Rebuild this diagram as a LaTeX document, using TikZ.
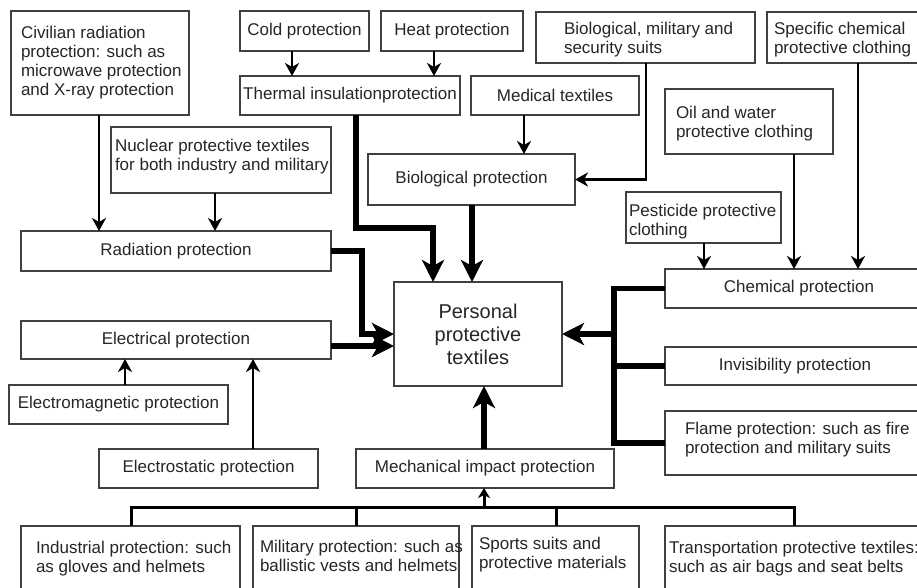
\documentclass[tikz,border=0pt]{standalone}
\usepackage{fontspec}
\setmainfont{Liberation Sans}
\usetikzlibrary{arrows.meta}
\newcommand\fs{\fontsize{17}{19}\selectfont}
\newcommand\bx[6]{\node[box, minimum width={#4-#2}, minimum height={#5-#3}] (#1) at (#2,#3) {#6};}
\tikzset{
 box/.style={draw=black!75, line width=1.2pt, rectangle, inner sep=0pt, outer sep=0pt, anchor=north west, font=\fs, text=black!85, align=center},
 txt/.style={inner sep=0pt, outer sep=0pt, anchor=north west, align=left, font=\fs, text=black!85},
 thinarrow/.style={line width=2.6pt, -{Stealth[length=13pt,width=14pt,inset=4pt]}},
 thickarrow/.style={line width=5.5pt, -{Stealth[length=22pt,width=22pt,inset=6pt]}},
 thickline/.style={line width=5.5pt},
 bus/.style={line width=3pt},
 busarrow/.style={line width=3pt, -{Stealth[length=10pt,width=12pt,inset=3pt]}}
}
\begin{document}
\begin{tikzpicture}[x=1pt,y=-1pt]
\useasboundingbox (0,0) rectangle (917,587);
\clip (0,0) rectangle (917,587);
\fill[white] (0,0) rectangle (917,587);
% boxes
\bx{civ}{11}{11}{189}{115}{}
\bx{cold}{240}{11}{369}{51}{Cold protection}
\bx{heat}{381}{11}{523}{51}{Heat protection}
\bx{therm}{240}{76}{460}{115}{Thermal insulationprotection}
\bx{biomil}{536}{12}{755}{63}{}
\bx{spec}{767}{12}{940}{63}{}
\bx{med}{471}{76}{639}{115}{Medical textiles}
\bx{nuc}{111}{127}{331}{193}{}
\bx{oil}{665}{89}{833}{154}{}
\bx{bio}{368}{154}{575}{205}{Biological protection}
\bx{pest}{626}{192}{781}{243}{}
\bx{rad}{21}{231}{331}{271}{Radiation protection}
\bx{chem}{665}{269}{933}{308}{Chemical protection}
\node[box, minimum width=168, minimum height=104, font=\fontsize{20}{23}\selectfont] (pers) at (394,282) {Personal\\protective\\textiles};
\bx{elec}{21}{321}{331}{359}{Electrical protection}
\bx{invis}{665}{347}{925}{385}{Invisibility protection}
\bx{emag}{9}{385}{228}{424}{Electromagnetic protection}
\bx{flame}{665}{411}{935}{475}{}
\bx{estat}{99}{449}{318}{488}{Electrostatic protection}
\bx{mech}{356}{449}{614}{488}{Mechanical impact protection}
\bx{ind}{21}{526}{240}{610}{}
\bx{mil}{253}{526}{459}{610}{}
\bx{sports}{472}{526}{639}{610}{}
\bx{trans}{665}{526}{923}{610}{}
% left-aligned texts
\node[txt] (civ-t) at (21,26) {Civilian radiation\\protection: such as\\microwave protection\\and X-ray protection};
\node[txt] (biomil-t) at (564,22) {Biological, military and\\security suits};
\node[txt] (spec-t) at (774,22) {Specific chemical\\protective clothing};
\node[txt] (nuc-t) at (115,139) {Nuclear protective textiles\\for both industry and military};
\node[txt] (oil-t) at (676,106) {Oil and water\\protective clothing};
\node[txt] (pest-t) at (629,204) {Pesticide protective\\clothing};
\node[txt] (flame-t) at (685,422) {Flame protection: such as fire\\protection and military suits};
\node[txt] (ind-t) at (36,541) {Industrial protection: such\\as gloves and helmets};
\node[txt] (mil-t) at (260,540) {Military protection: such as\\ballistic vests and helmets};
\node[txt] (sports-t) at (479,537) {Sports suits and\\protective materials};
\node[txt] (trans-t) at (669,541) {Transportation protective textiles:\\such as air bags and seat belts};
% connectors
\draw[thinarrow] (civ.south -| 99,0) -- (rad.north -| 99,0);
\draw[thinarrow] (nuc.south -| 215,0) -- (rad.north -| 215,0);
\draw[thinarrow] (cold.south -| 292,0) -- (therm.north -| 292,0);
\draw[thinarrow] (heat.south -| 434,0) -- (therm.north -| 434,0);
\draw[thinarrow] (med.south -| 524,0) -- (bio.north -| 524,0);
\draw[thinarrow] (biomil.south -| 646,0) |- (bio.east);
\draw[thickarrow] (therm.south -| 356,0) -- (356,228) -| (pers.north -| 433,0);
\draw[thickarrow] (bio.south -| 472,0) -- (pers.north -| 472,0);
\draw[thickarrow] (rad.east) -| (362,334) -- (pers.west |- 0,334);
\draw[thickarrow] (elec.east |- 0,346) -- (pers.west |- 0,346);
\draw[thinarrow] (emag.north -| 125,0) -- (elec.south -| 125,0);
\draw[thinarrow] (estat.north -| 253,0) -- (elec.south -| 253,0);
\draw[thickarrow] (mech.north -| 484,0) -- (pers.south -| 484,0);
\draw[bus] (ind.north -| 131,0) -- (131,507) -- (794,507) -- (trans.north -| 794,0);
\draw[bus] (mil.north -| 356,0) -- (356,507);
\draw[bus] (sports.north -| 556,0) -- (556,507);
\draw[busarrow] (484,507) -- (mech.south -| 484,0);
\draw[thinarrow] (pest.south -| 704,0) -- (chem.north -| 704,0);
\draw[thinarrow] (oil.south -| 794,0) -- (chem.north -| 794,0);
\draw[thinarrow] (spec.south -| 858,0) -- (chem.north -| 858,0);
\draw[thickline] (chem.west) -| (614,443) -- (flame.west);
\draw[thickline] (invis.west) -- (614,366);
\draw[thickarrow] (pers.east -| 614,0) -- (pers.east);
\end{tikzpicture}
\end{document}
